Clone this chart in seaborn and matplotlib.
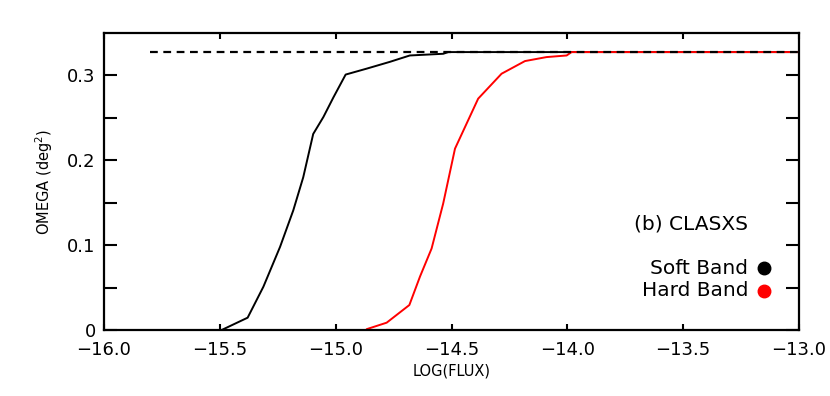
# omega vs log flux, CLASXS soft / hard band sky coverage
import numpy as np
import pandas as pd
import matplotlib
matplotlib.use("Agg")
import matplotlib.pyplot as plt
import seaborn as sns

# data
soft_logflux = [-15.492, -15.38, -15.312, -15.24, -15.183, -15.14, -15.097, -15.053,
                -15.01, -14.957, -14.866, -14.766, -14.68, -14.536, -14.514, -13.0]
soft_omega = [0.0, 0.0145, 0.051, 0.098, 0.141, 0.18, 0.231, 0.251,
              0.274, 0.301, 0.308, 0.316, 0.3235, 0.3255, 0.3275, 0.3275]
hard_logflux = [-14.866, -14.78, -14.682, -14.636, -14.586, -14.536, -14.485, -14.385,
                -14.284, -14.183, -14.09, -14.003, -13.982, -13.0]
hard_omega = [0.001, 0.0086, 0.0294, 0.063, 0.096, 0.149, 0.2137, 0.2726,
              0.302, 0.3169, 0.3216, 0.3235, 0.3275, 0.3275]
total_logflux = [-15.8, -13.0]
total_omega = [0.3275, 0.3275]

xticks = [-16.0, -15.5, -15.0, -14.5, -14.0, -13.5, -13.0]
yticks = [0, 0.1, 0.2, 0.3]
ytick_labels = ["0", "0.1", "0.2", "0.3"]

sns.set_style("white")
plt.rcParams['font.family'] = ['DejaVu Sans']
plt.rcParams['text.color'] = 'black'
plt.rcParams['axes.labelcolor'] = 'black'
plt.rcParams['xtick.color'] = 'black'
plt.rcParams['ytick.color'] = 'black'

soft = pd.DataFrame({"logflux": soft_logflux, "omega": soft_omega})
hard = pd.DataFrame({"logflux": hard_logflux, "omega": hard_omega})
total = pd.DataFrame({"logflux": total_logflux, "omega": total_omega})

fig = plt.figure(figsize=(8.3, 3.96), dpi=100)
ax = fig.add_axes([0.1253, 0.1667, 0.8374, 0.75])

sns.lineplot(data=soft, x="logflux", y="omega", color="black", lw=1.4, ax=ax, sort=False)
sns.lineplot(data=hard, x="logflux", y="omega", color="red", lw=1.4, ax=ax, sort=False)
sns.lineplot(data=total, x="logflux", y="omega", color="black", lw=1.6, ax=ax,
             linestyle=(0, (3.5, 2.5)))

ax.set_xlim(-16, -13)
ax.set_ylim(0, 0.35)
ax.set_xticks(xticks)
ax.set_xticklabels(["\u2212%.1f" % abs(v) for v in xticks])
ax.set_yticks(yticks)
ax.set_yticklabels(ytick_labels)
ax.set_yticks([0.05, 0.15, 0.25], minor=True)

for s in ax.spines.values():
    s.set_linewidth(1.6)
    s.set_color("black")
ax.tick_params(axis="x", which="both", direction="in", length=4.5, width=1.5,
               top=True, bottom=True, labelsize=13, pad=8)
ax.tick_params(axis="y", which="both", direction="in", length=9.5, width=1.5,
               left=True, right=True, labelsize=13, pad=6)

ax.set_xlabel("LOG(FLUX)", fontsize=10.5, labelpad=3)
ax.set_ylabel("OMEGA (deg$^2$)", fontsize=10.5, labelpad=9)

ax.text(-13.22, 0.1247, "(b) CLASXS", ha="right", va="center", fontsize=14.5)
ax.text(-13.22, 0.073, "Soft Band", ha="right", va="center", fontsize=14.5)
ax.text(-13.22, 0.0462, "Hard Band", ha="right", va="center", fontsize=14.5)
ax.plot([-13.152], [0.073], "o", color="black", ms=9, clip_on=False)
ax.plot([-13.152], [0.0462], "o", color="red", ms=9, clip_on=False)

fig.savefig("out.png", dpi=100)
